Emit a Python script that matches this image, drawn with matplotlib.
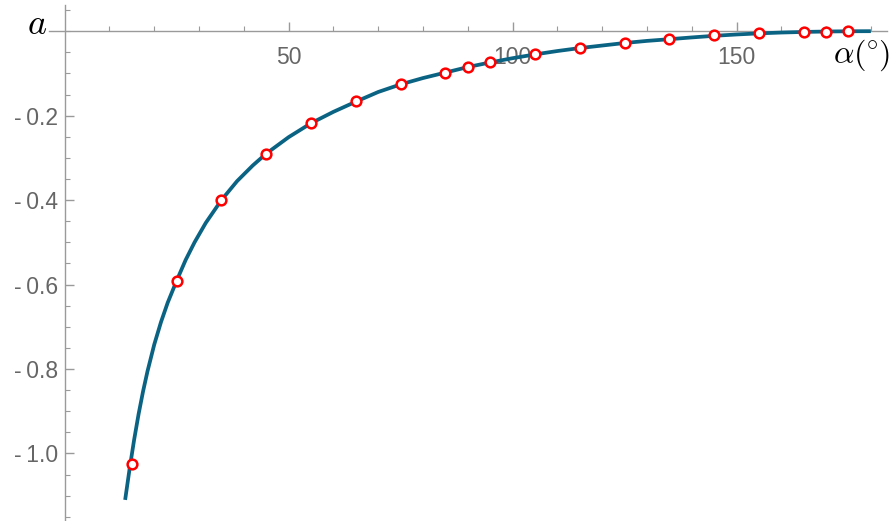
import numpy as np
import matplotlib
matplotlib.use('Agg')
import matplotlib.pyplot as plt
from matplotlib.ticker import FixedLocator

# theoretical curve a(alpha)
curve_alpha = [13.5, 14.5, 15.5, 16.5, 17.5, 18.5, 20.0, 21.5, 23.0, 25.0,
               27.0, 29.0, 31.5, 35.0, 38.5, 42.0, 45.0, 50.0, 55.0, 60.0,
               65.0, 70.0, 75.0, 80.0, 85.0, 90.0, 95.0, 100.0, 105.0, 110.0,
               115.0, 120.0, 125.0, 130.0, 135.0, 140.0, 145.0, 150.0, 155.0, 160.0,
               165.0, 170.0, 175.0, 180.0]
curve_a = [-1.110, -1.036, -0.968, -0.907, -0.853, -0.805, -0.742, -0.689, -0.643, -0.591,
           -0.542, -0.500, -0.454, -0.400, -0.355, -0.318, -0.290, -0.251, -0.218, -0.191,
           -0.167, -0.144, -0.126, -0.111, -0.098, -0.085, -0.074, -0.064, -0.055, -0.047,
           -0.040, -0.034, -0.028, -0.023, -0.019, -0.0148, -0.0110, -0.0078, -0.0052, -0.0032,
           -0.0018, -0.0008, -0.0002, 0.0]

# simulation points
pts_alpha = [15, 25, 35, 45, 55, 65, 75, 85, 90, 95, 105, 115, 125, 135, 145,
             155, 165, 170, 175]
pts_a = [-1.025, -0.591, -0.399, -0.290, -0.217, -0.166, -0.126, -0.098, -0.085,
         -0.074, -0.055, -0.040, -0.028, -0.019, -0.010, -0.005, -0.002, -0.001, -0.0005]

x_major = [50, 100, 150]
x_labels = ['50', '100', '150']
y_major = [-1.0, -0.8, -0.6, -0.4, -0.2]
y_labels = ['-\u20091.0', '-\u20090.8', '-\u20090.6', '-\u20090.4', '-\u20090.2']

plt.rcParams['font.family'] = ['Liberation Sans', 'DejaVu Sans']
plt.rcParams['mathtext.fontset'] = 'cm'

fig = plt.figure(figsize=(8.96, 5.21), dpi=100)
ax = fig.add_axes([49/896, 0, 838/896, 516/521])
ax.set_xlim(-3.5, 183.6)
ax.set_ylim(-1.16, 0.062)

for s in ['top', 'right']:
    ax.spines[s].set_visible(False)
ax.spines['left'].set_position(('data', 0))
ax.spines['bottom'].set_position(('data', 0))
for s in ['left', 'bottom']:
    ax.spines[s].set_color('#9a9a9a')
    ax.spines[s].set_linewidth(1.0)

ax.set_xticks(x_major)
ax.set_xticklabels(x_labels)
ax.set_yticks(y_major)
ax.set_yticklabels(y_labels)
ax.xaxis.set_minor_locator(FixedLocator(list(range(10, 181, 10))))
ax.yaxis.set_minor_locator(FixedLocator([-1.15 + 0.05*i for i in range(25)]))

ax.tick_params(which='both', direction='in', colors='#9a9a9a',
               labelcolor='#666666', labelsize=16.5)
ax.tick_params(which='major', length=6.5, width=1)
ax.tick_params(which='minor', length=3.6, width=0.8)
ax.tick_params(axis='x', pad=11)
ax.tick_params(axis='y', pad=5)

ax.plot(curve_alpha, curve_a, '-', color='#0b6384', lw=2.7, zorder=3,
        solid_capstyle='butt', solid_joinstyle='round', clip_on=False)
ax.plot(pts_alpha, pts_a, 'o', ms=7.0, mfc='white', mec='#ff0000', mew=1.8,
        zorder=4, clip_on=False)

ax.text(-3.9, 0.017, r'$a$', ha='right', va='center', fontsize=26)
ax.text(171.5, -0.057, r'$\alpha(\!^\circ\!)$', ha='left', va='center', fontsize=23)

fig.savefig('out.png', dpi=100)
